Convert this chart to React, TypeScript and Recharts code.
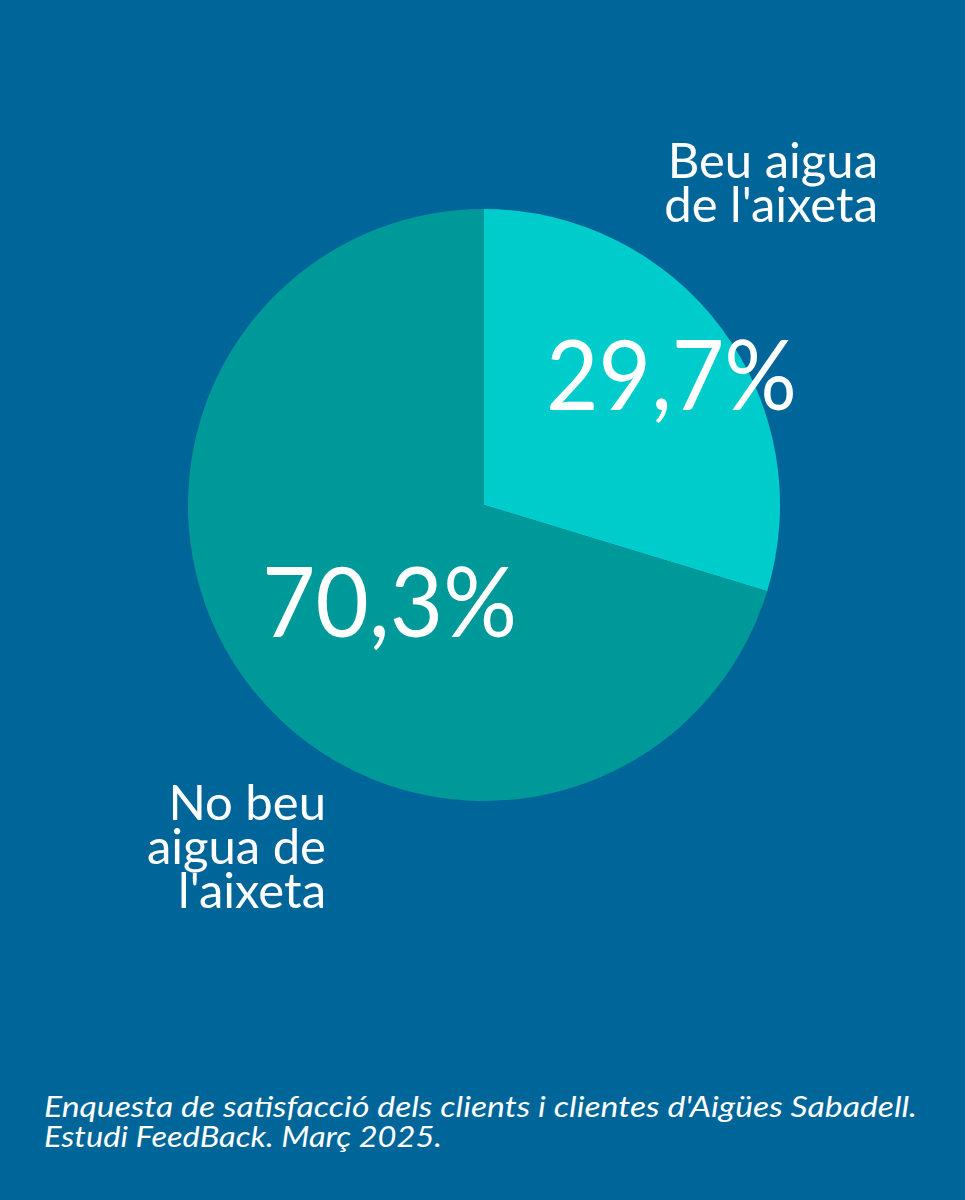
import React from "react";
import { PieChart, Pie, Cell } from "recharts";

const categories = ["Beu aigua de l'aixeta", "No beu aigua de l'aixeta"];
const values = [29.7, 70.3];
const valueLabels = ["29,7%", "70,3%"];
const nameLines = [["Beu aigua", "de l'aixeta"], ["No beu", "aigua de", "l'aixeta"]];
const colors = ["#00CCCC", "#009999"];
const footerLines = [
  "Enquesta de satisfacció dels clients i clientes d'Aigües Sabadell.",
  "Estudi FeedBack. Març 2025.",
];

const data = categories.map((name, i) => ({ name, value: values[i] }));

const BG = "#006699";
const FONT = "Lato, 'Open Sans', sans-serif";

const renderLabel = (props: any) => {
  const { cx, cy, index } = props;
  if (index === 0) {
    const x = cx + 394;
    return (
      <g>
        <text x={cx + 62} y={cy - 95} fill="#fff" fontFamily={FONT} fontWeight={400} fontSize={96} textLength={251} lengthAdjust="spacingAndGlyphs">
          {valueLabels[0]}
        </text>
        <text x={x} y={cy - 327} fill="#fff" fontFamily={FONT} fontSize={49} textAnchor="end">
          {nameLines[0].map((l, k) => (
            <tspan key={k} x={x} dy={k === 0 ? 0 : 44}>
              {l}
            </tspan>
          ))}
        </text>
      </g>
    );
  }
  const x = cx - 158;
  return (
    <g>
      <text x={cx - 222} y={cy + 132} fill="#fff" fontFamily={FONT} fontWeight={400} fontSize={96} textLength={255} lengthAdjust="spacingAndGlyphs">
        {valueLabels[1]}
      </text>
      <text x={x} y={cy + 315} fill="#fff" fontFamily={FONT} fontSize={49} textAnchor="end">
        {nameLines[1].map((l, k) => (
          <tspan key={k} x={x} dy={k === 0 ? 0 : 44}>
            {l}
          </tspan>
        ))}
      </text>
    </g>
  );
};

export default function App() {
  return (
    <div style={{ position: "absolute", left: 0, top: 0, width: 965, height: 1200, background: BG }}>
      <PieChart width={965} height={1200} margin={{ top: 0, right: 0, bottom: 0, left: 0 }}>
        <Pie
          data={data}
          dataKey="value"
          nameKey="name"
          cx={484}
          cy={505}
          outerRadius={296}
          startAngle={90}
          endAngle={-270}
          stroke="none"
          labelLine={false}
          label={renderLabel}
          isAnimationActive={false}
        >
          {data.map((d, i) => (
            <Cell key={d.name} fill={colors[i]} />
          ))}
        </Pie>
        <text x={44} y={1117} fill="#fff" fontFamily={FONT} fontStyle="italic" fontSize={29} textLength={873} lengthAdjust="spacingAndGlyphs">
          {footerLines[0]}
        </text>
        <text x={44} y={1147} fill="#fff" fontFamily={FONT} fontStyle="italic" fontSize={29} textLength={398} lengthAdjust="spacingAndGlyphs">
          {footerLines[1]}
        </text>
      </PieChart>
    </div>
  );
}
